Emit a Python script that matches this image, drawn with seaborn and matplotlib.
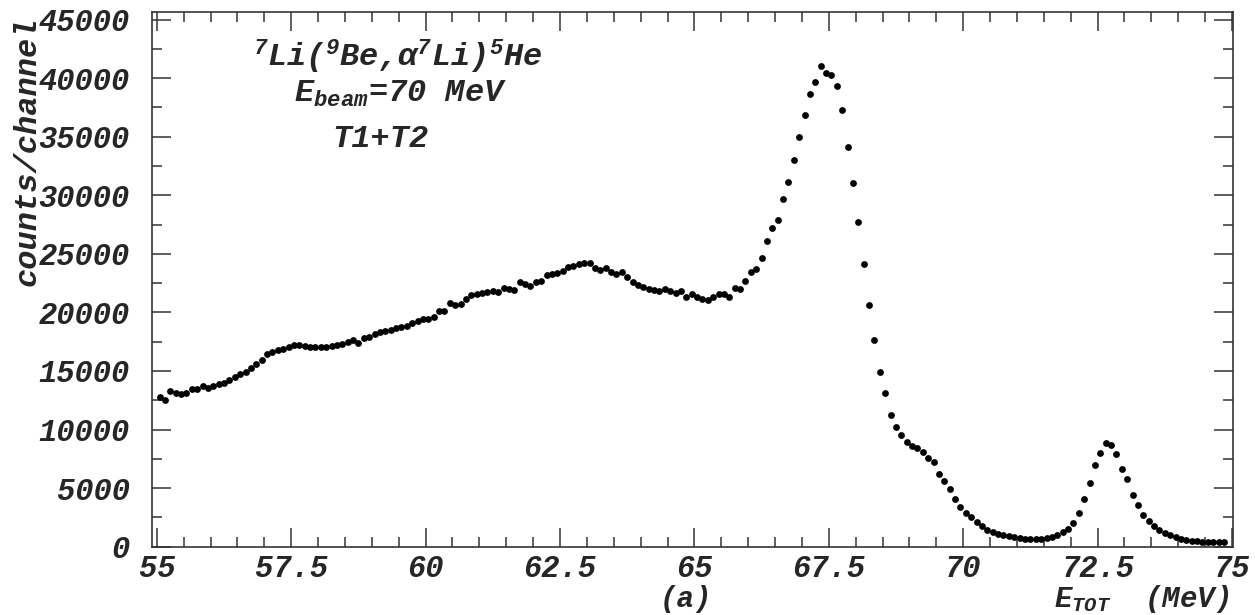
import numpy as np
import matplotlib
matplotlib.use("Agg")
import matplotlib.pyplot as plt
from matplotlib.ticker import MultipleLocator, FixedLocator
from matplotlib.font_manager import FontProperties
import seaborn as sns

# Spectrum: counts per 0.1 MeV channel, starting at 55.0 MeV
E_START = 55.0
E_WIDTH = 0.1

counts_55_59 = [12790, 12560, 13300, 13100, 13070, 13160, 13470, 13420, 13760, 13530,
                13730, 13870, 13990, 14210, 14500, 14730, 14930, 15240, 15580, 15950,
                16410, 16580, 16780, 16890, 17060, 17240, 17210, 17150, 17060, 17090,
                17010, 17060, 17150, 17240, 17290, 17440, 17630, 17350, 17780, 17860]
counts_59_63 = [18120, 18320, 18440, 18490, 18640, 18750, 18870, 19070, 19240, 19440,
                19440, 19640, 20150, 20150, 20820, 20620, 20680, 21110, 21480, 21560,
                21680, 21760, 21850, 21760, 22100, 21960, 21900, 22590, 22390, 22250,
                22560, 22700, 23210, 23240, 23330, 23560, 23840, 23980, 24120, 24240]
counts_63_65 = [24180, 23750, 23660, 23750, 23470, 23270, 23470, 23040, 22620, 22330,
                22130, 21960, 21910, 21850, 21960, 21850, 21620, 21790, 21280, 21560,
                21340, 21170, 21080, 21340, 21560, 21560]
counts_peak = [21330, 22070, 22020, 22700, 23410, 23690, 24630, 26080, 27190, 27930,
               29690, 31120, 33020, 35010, 36860, 38680, 39650, 41070, 40470, 40300,
               39300, 37320, 34160, 31060, 27700, 24150, 20600, 17630, 14880]
counts_tail = [13090, 11240, 10220, 9530, 8900, 8620, 8450, 8050, 7560, 7250,
               6200, 5630, 4920, 4100, 3390, 2880, 2560, 2130, 1740, 1420,
               1220, 1080, 960, 880, 800, 740, 690, 630, 630, 660,
               710, 850, 960, 1240, 1500, 2050, 2850, 4040, 5410, 6970,
               8030, 8880, 8660, 7910, 6630, 5750, 4410, 3530, 2730, 2160,
               1740, 1420, 1190, 960, 800, 630, 570, 510, 460, 430,
               430, 400, 400, 400]

counts = np.array(counts_55_59 + counts_59_63 + counts_63_65 + counts_peak + counts_tail)
energy = E_START + (np.arange(len(counts)) + 0.5) * E_WIDTH

x_major = [55, 57.5, 60, 62.5, 65, 67.5, 70, 72.5, 75]
x_labels = ["55", "57.5", "60", "62.5", "65", "67.5", "70", "72.5", "75"]
y_major = [0, 5000, 10000, 15000, 20000, 25000, 30000, 35000, 40000, 45000]
y_labels = [str(v) for v in y_major]

sns.set_style("ticks")
plt.rcParams["font.family"] = ["Liberation Mono", "DejaVu Sans Mono"]
plt.rcParams["mathtext.fontset"] = "custom"
plt.rcParams["mathtext.rm"] = "Liberation Mono:bold:italic"
plt.rcParams["mathtext.it"] = "Liberation Mono:bold:italic"
plt.rcParams["mathtext.bf"] = "Liberation Mono:bold:italic"

fp_tick = FontProperties(family="Liberation Mono", weight="bold", style="italic", size=22)
fp_axis = FontProperties(family="Liberation Mono", weight="bold", style="italic", size=21)
fp_label = FontProperties(family="Liberation Mono", weight="bold", style="italic", size=23)
fp_note = FontProperties(family="Liberation Mono", weight="bold", style="italic", size=23)

fig = plt.figure(figsize=(12.55, 6.15), dpi=100)
ax = fig.add_axes([0.1211, 0.1111, 0.8614, 0.8694])

sns.scatterplot(x=energy, y=counts, ax=ax, color="black", s=24, linewidth=0)

ax.set_xlim(54.91, 75.02)
ax.set_ylim(0, 45650)

ax.xaxis.set_major_locator(FixedLocator(x_major))
ax.xaxis.set_minor_locator(MultipleLocator(0.5))
ax.yaxis.set_major_locator(FixedLocator(y_major))
ax.yaxis.set_minor_locator(MultipleLocator(2500))
ax.set_xticklabels(x_labels)
ax.set_yticklabels(y_labels)
for lab in ax.get_xticklabels() + ax.get_yticklabels():
    lab.set_fontproperties(fp_tick)

for side in ["left", "right", "top", "bottom"]:
    ax.spines[side].set_visible(True)
    ax.spines[side].set_color("#333333")
    ax.spines[side].set_linewidth(1.2)

ax.tick_params(which="both", direction="in", top=True, right=True,
               color="#333333", width=1.1)
ax.tick_params(which="major", length=14)
ax.tick_params(which="minor", length=7)
ax.tick_params(axis="x", which="major", pad=5)
ax.tick_params(axis="y", which="major", pad=16)

ax.set_xlabel("")
ax.set_ylabel("")

fig.text(28 / 1255, 1 - 151 / 615, "counts/channel", rotation=90,
         ha="center", va="center", fontproperties=fp_label)

ax.text(398 / 1255, 1 - 67 / 615, r"$^{7}$Li($^{9}$Be,α$^{7}$Li)$^{5}$He",
        transform=fig.transFigure, ha="center", va="baseline", fontproperties=fp_note)
ax.text(400 / 1255, 1 - 102 / 615, r"E$_{beam}$=70 MeV",
        transform=fig.transFigure, ha="center", va="baseline", fontproperties=fp_note)
ax.text(380 / 1255, 1 - 147 / 615, "T1+T2",
        transform=fig.transFigure, ha="center", va="baseline", fontproperties=fp_note)

fig.text(686 / 1255, 1 - 607 / 615, "(a)", ha="center", va="baseline",
         fontproperties=fp_axis)
fig.text(1229 / 1255, 1 - 607 / 615, r"E$_{TOT}$  (MeV)", ha="right", va="baseline",
         fontproperties=fp_axis)

fig.savefig("out.png", dpi=100, facecolor="white")
